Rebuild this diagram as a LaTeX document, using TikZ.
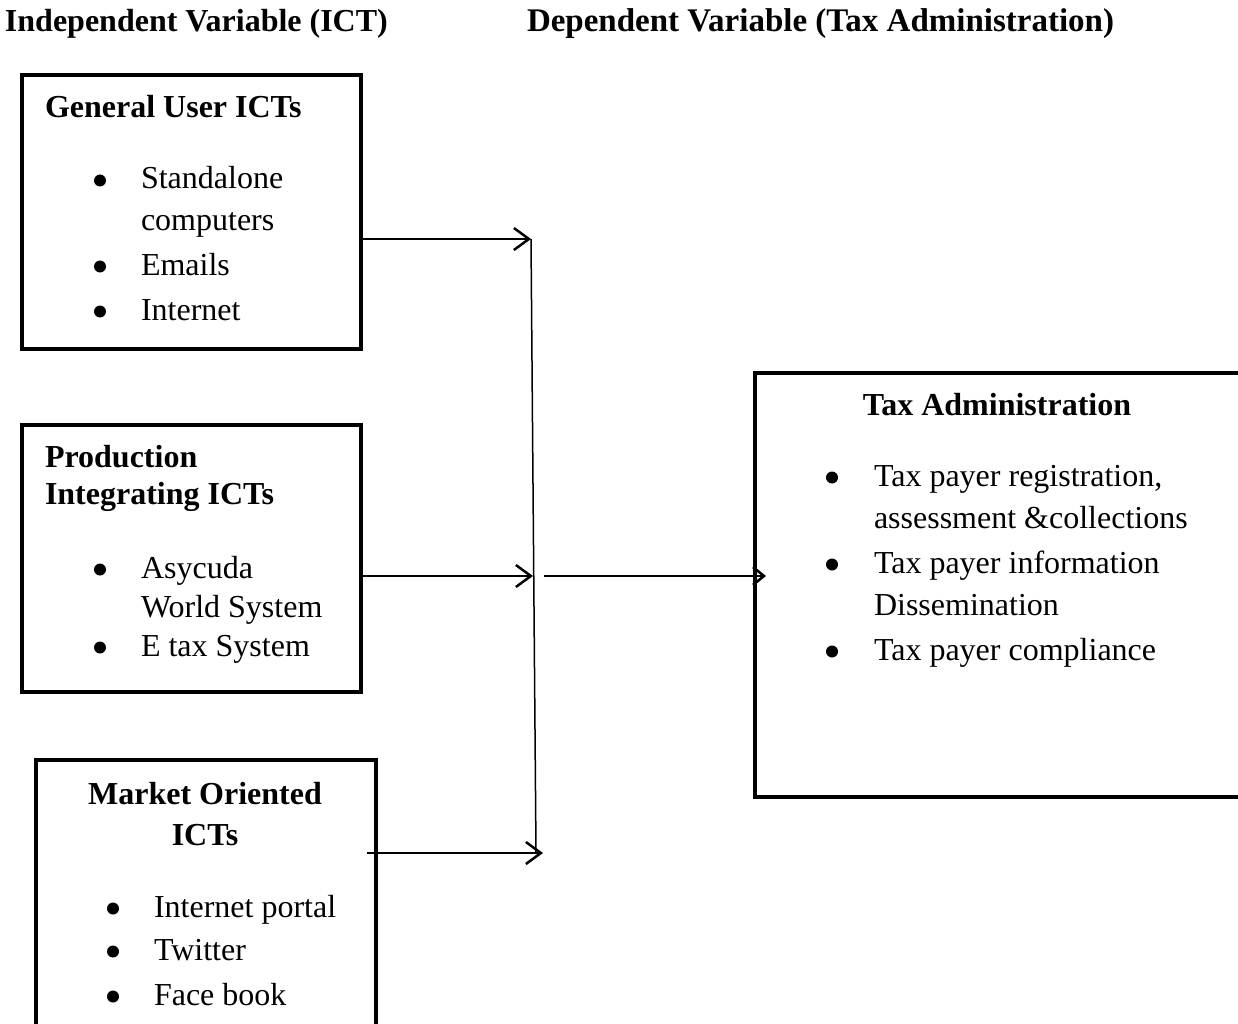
\documentclass[tikz,border=0pt]{standalone}
\usepackage{fontspec}
\setmainfont{Liberation Serif}
\usetikzlibrary{arrows.meta}
\tikzset{
  every node/.style={inner sep=0pt, outer sep=0pt},
  txt/.style={anchor=base west, font=\fontsize{32}{43}\selectfont},
  hd/.style={anchor=base west, font=\fontsize{32}{43}\selectfont\bfseries},
  hdc/.style={anchor=base, font=\fontsize{32}{43}\selectfont\bfseries},
  bul/.style={circle, fill, minimum size=12pt, yshift=8.5pt},
  boxx/.style={draw, line width=4.8pt, rectangle},
  arr/.style={line width=2.5pt, -{Straight Barb[length=15pt,width=22pt]}},
  arrs/.style={line width=2.6pt, -{Straight Barb[length=11pt,width=18pt]}},
  vline/.style={line width=1.5pt}
}
\begin{document}
\begin{tikzpicture}[x=1pt,y=-1pt]
\useasboundingbox (0,0) rectangle (1238,1024);
\clip (0,0) rectangle (1238,1024);
% titles
\node[hd] (t1) at (5,32) {Independent Variable (ICT)};
\node[hd, font=\fontsize{33}{43}\selectfont\bfseries] (t2) at (527,32) {Dependent Variable (Tax Administration)};
% boxes
\node[boxx, minimum width=339pt, minimum height=274pt] (b1) at (191.5,212) {};
\node[boxx, minimum width=339pt, minimum height=267pt] (b2) at (191.5,558.5) {};
\node[boxx, minimum width=340pt, minimum height=290pt] (b3) at (206,905) {};
\node[boxx, minimum width=495pt, minimum height=424pt] (b4) at (1002.5,585) {};
% box 1 text
\node[hd] (h1) at (45,118) {General User ICTs};
\node[bul] (p11) at (100,189) {};
\node[txt] (l11) at (141,189) {Standalone};
\node[txt] (l12) at (141,231) {computers};
\node[bul] (p12) at (100,275) {};
\node[txt] (l13) at (141,275) {Emails};
\node[bul] (p13) at (100,320) {};
\node[txt] (l14) at (141,320) {Internet};
% box 2 text
\node[hd] (h2a) at (45,467) {Production};
\node[hd] (h2b) at (45,504) {Integrating ICTs};
\node[bul] (p21) at (100,578) {};
\node[txt] (l21) at (141,578) {Asycuda};
\node[txt] (l22) at (141,617) {World System};
\node[bul] (p22) at (100,656) {};
\node[txt] (l23) at (141,656) {E tax System};
% box 3 text
\node[hdc] (h3a) at (205,804) {Market Oriented};
\node[hdc] (h3b) at (205,845) {ICTs};
\node[bul] (p31) at (113,917) {};
\node[txt] (l31) at (154,917) {Internet portal};
\node[bul] (p32) at (113,960) {};
\node[txt] (l32) at (154,960) {Twitter};
\node[bul] (p33) at (113,1005) {};
\node[txt] (l33) at (154,1005) {Face book};
% box 4 text
\node[hdc] (h4) at (997,415) {Tax Administration};
\node[bul] (p41) at (832,486) {};
\node[txt] (l41) at (874,486) {Tax payer registration,};
\node[txt] (l42) at (874,528) {assessment \&collections};
\node[bul] (p42) at (832,573) {};
\node[txt] (l43) at (874,573) {Tax payer information};
\node[txt] (l44) at (874,615) {Dissemination};
\node[bul] (p43) at (832,660) {};
\node[txt] (l45) at (874,660) {Tax payer compliance};
% connectors
\coordinate (j1) at (531,239);
\coordinate (j2) at (533,576);
\coordinate (j3) at (536,853);
\coordinate (j3e) at (543,853);
\coordinate (m) at (544,576);
\coordinate (m2) at (766,576);
\draw[vline] (j1) -- (j3);
\draw[arr] (b1.east |- j1) -- (j1);
\draw[arr] (b2.east |- j2) -- (j2);
\draw[arr] ([xshift=-9pt]b3.east |- j3e) -- (j3e);
\draw[arrs] (m) -- (m2);
\end{tikzpicture}
\end{document}
